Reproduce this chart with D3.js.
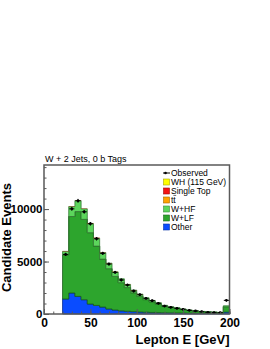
<!DOCTYPE html>
<html>
<head>
<meta charset="utf-8">
<script src="https://cdn.jsdelivr.net/npm/d3@7"></script>
<style>
  body { margin: 0; background: #fff; }
  svg { display: block; font-family: "Liberation Sans", Arial, Helvetica, sans-serif; }
</style>
</head>
<body>
<svg width="270" height="349"></svg>
<script>
// 27 bins, 20 -> 200 GeV (last bin holds overflow)
var binStart = 20, binStep = 20 / 3, nBins = 27;

var other     = [1430, 2000, 1680, 1360, 950, 820, 660, 480, 380, 300, 260, 220, 190, 170, 150, 130, 120, 110, 100, 90, 80, 70, 60, 55, 50, 45, 180];
var wlf       = [4210, 7290, 8080, 7660, 6800, 5650, 4570, 3840, 3200, 2690, 2260, 1800, 1490, 1200, 1000, 820, 615, 510, 430, 335, 255, 205, 160, 140, 115, 95, 510];
var whf       = [330, 950, 1050, 1000, 880, 760, 620, 520, 430, 360, 300, 250, 210, 170, 140, 120, 90, 75, 65, 52, 42, 34, 28, 24, 21, 18, 90];
var ttbar     = [5, 8, 9, 9, 8, 7, 6, 5, 5, 4, 3, 3, 3, 2, 2, 2, 2, 1, 1, 1, 1, 1, 1, 1, 1, 1, 4];
var singleTop = [20, 30, 30, 28, 25, 22, 18, 15, 12, 10, 9, 7, 6, 5, 4, 4, 3, 3, 2, 2, 2, 1, 1, 1, 1, 1, 6];
var wh        = [1, 2, 2, 2, 2, 1, 1, 1, 1, 1, 1, 1, 1, 0, 0, 0, 0, 0, 0, 0, 0, 0, 0, 0, 0, 0, 1];
var observed  = [5680, 10020, 10790, 9740, 8600, 7170, 5780, 4760, 3970, 3240, 2760, 2190, 1840, 1490, 1270, 1020, 760, 640, 540, 450, 350, 290, 220, 160, 130, 130, 1300];

var xTicks = [0, 50, 100, 150, 200];
var yTicks = [0, 5000, 10000];

function draw()
{
    var svg = d3.select("svg");
    var pLeft = 44, pRight = 229.5, pTop = 165, pBottom = 314;

    var x = d3.scaleLinear().domain([0, 200]).range([pLeft, pRight]);
    var y = d3.scaleLinear().domain([0, 14200]).range([pBottom, pTop]);

    // stack table built from the arrays
    var keys = ["other", "wlf", "whf", "ttbar", "singleTop", "wh"];
    var colors = {
        other: "#0a4cff", wlf: "#2da52d", whf: "#5cd65c",
        ttbar: "#ffa200", singleTop: "#f41414", wh: "#ffff00"
    };
    var outlined = {other: true, wlf: true, whf: true};
    var table = d3.range(nBins).map(function(i) {
        return {
            lo: binStart + i * binStep,
            other: other[i], wlf: wlf[i], whf: whf[i],
            ttbar: ttbar[i], singleTop: singleTop[i], wh: wh[i]
        };
    });
    var series = d3.stack().keys(keys)(table);

    var area = d3.area()
        .curve(d3.curveStepAfter)
        .x(function(d) { return x(d.lo); })
        .y0(function(d) { return y(d.v0); })
        .y1(function(d) { return y(d.v1); });

    series.forEach(function(s) {
        var pts = s.map(function(d) { return {lo: d.data.lo, v0: d[0], v1: d[1]}; });
        var last = pts[pts.length - 1];
        pts.push({lo: last.lo + binStep, v0: last.v0, v1: last.v1});
        svg.append("path")
            .attr("d", area(pts))
            .attr("fill", colors[s.key])
            .attr("stroke", outlined[s.key] ? d3.color(colors[s.key]).darker(1.6) : "none")
            .attr("stroke-width", 0.8);
    });

    // observed points
    var obs = svg.append("g");
    observed.forEach(function(v, i) {
        var lo = binStart + i * binStep, cx = x(lo + binStep / 2), err = Math.sqrt(v);
        obs.append("line")
            .attr("x1", x(lo) + 0.5).attr("x2", x(lo + binStep) - 0.5)
            .attr("y1", y(v)).attr("y2", y(v))
            .attr("stroke", "#000").attr("stroke-width", 1);
        obs.append("line")
            .attr("x1", cx).attr("x2", cx)
            .attr("y1", y(v - err) + 0.8).attr("y2", y(v + err) - 0.8)
            .attr("stroke", "#000").attr("stroke-width", 1);
        obs.append("circle")
            .attr("cx", cx).attr("cy", y(v)).attr("r", 1.4)
            .attr("fill", "#000");
    });

    // frame
    svg.append("rect")
        .attr("x", pLeft).attr("y", pTop)
        .attr("width", pRight - pLeft).attr("height", pBottom - pTop)
        .attr("fill", "none").attr("stroke", "#5a5a5a").attr("stroke-width", 1.5);

    // axes
    var yMinor = d3.axisLeft(y).tickValues(d3.range(0, 14001, 1000)).tickSize(-2.5).tickFormat("");
    svg.append("g").attr("transform", "translate(" + pLeft + ",0)").call(yMinor)
        .call(function(g) { g.select(".domain").remove(); });
    var yAxis = d3.axisLeft(y).tickValues(yTicks).tickSize(-5).tickPadding(1.5).tickFormat(d3.format("d"));
    svg.append("g").attr("transform", "translate(" + pLeft + ",0)").call(yAxis)
        .call(function(g) { g.select(".domain").remove(); })
        .selectAll("text").attr("font-size", 11.5).attr("font-weight", "bold").attr("fill", "#000")
        .attr("font-family", "Liberation Sans, Arial, sans-serif");

    var xMinor = d3.axisBottom(x).tickValues(d3.range(0, 201, 10)).tickSize(-2.5).tickFormat("");
    svg.append("g").attr("transform", "translate(0," + pBottom + ")").call(xMinor)
        .call(function(g) { g.select(".domain").remove(); });
    var xAxis = d3.axisBottom(x).tickValues(xTicks).tickSize(-5).tickPadding(4);
    svg.append("g").attr("transform", "translate(0," + pBottom + ")").call(xAxis)
        .call(function(g) { g.select(".domain").remove(); })
        .selectAll("text").attr("font-size", 12).attr("font-weight", "bold").attr("fill", "#000")
        .attr("font-family", "Liberation Sans, Arial, sans-serif");

    svg.selectAll(".tick line").attr("stroke", "#5a5a5a").attr("stroke-width", 1);

    // titles
    svg.append("text")
        .attr("x", 45).attr("y", 161.5)
        .attr("font-size", 9)
        .text("W + 2 Jets, 0 b Tags");

    svg.append("text")
        .attr("transform", "translate(10.5,183) rotate(-90)")
        .attr("text-anchor", "end")
        .attr("font-size", 13).attr("font-weight", "bold")
        .text("Candidate Events");

    svg.append("text")
        .attr("x", pRight).attr("y", 344)
        .attr("text-anchor", "end")
        .attr("font-size", 13).attr("font-weight", "bold")
        .text("Lepton E [GeV]");

    // legend
    var legendItems = [
        {label: "Observed", key: null},
        {label: "WH (115 GeV)", key: "wh"},
        {label: "Single Top", key: "singleTop"},
        {label: "tt", key: "ttbar"},
        {label: "W+HF", key: "whf"},
        {label: "W+LF", key: "wlf"},
        {label: "Other", key: "other"}
    ];
    var leg = svg.append("g");
    legendItems.forEach(function(it, i) {
        var cy = 173 + i * 9;
        if (it.key === null) {
            leg.append("line").attr("x1", 163).attr("x2", 170).attr("y1", cy).attr("y2", cy)
                .attr("stroke", "#000").attr("stroke-width", 1);
            leg.append("circle").attr("cx", 165.5).attr("cy", cy).attr("r", 1.3).attr("fill", "#000");
        } else {
            leg.append("rect").attr("x", 163.5).attr("y", cy - 3).attr("width", 6).attr("height", 6)
                .attr("fill", colors[it.key])
                .attr("stroke", d3.color(colors[it.key]).darker(1.2)).attr("stroke-width", 0.6);
        }
        leg.append("text")
            .attr("x", 171).attr("y", cy).attr("dy", "0.35em")
            .attr("font-size", 8.5)
            .text(it.label);
        if (it.key === "ttbar") {
            // bar over the second t
            leg.append("line")
                .attr("x1", 173.4).attr("x2", 176.2)
                .attr("y1", cy - 4.6).attr("y2", cy - 4.6)
                .attr("stroke", "#000").attr("stroke-width", 0.6);
        }
    });
}

draw();
</script>
</body>
</html>
